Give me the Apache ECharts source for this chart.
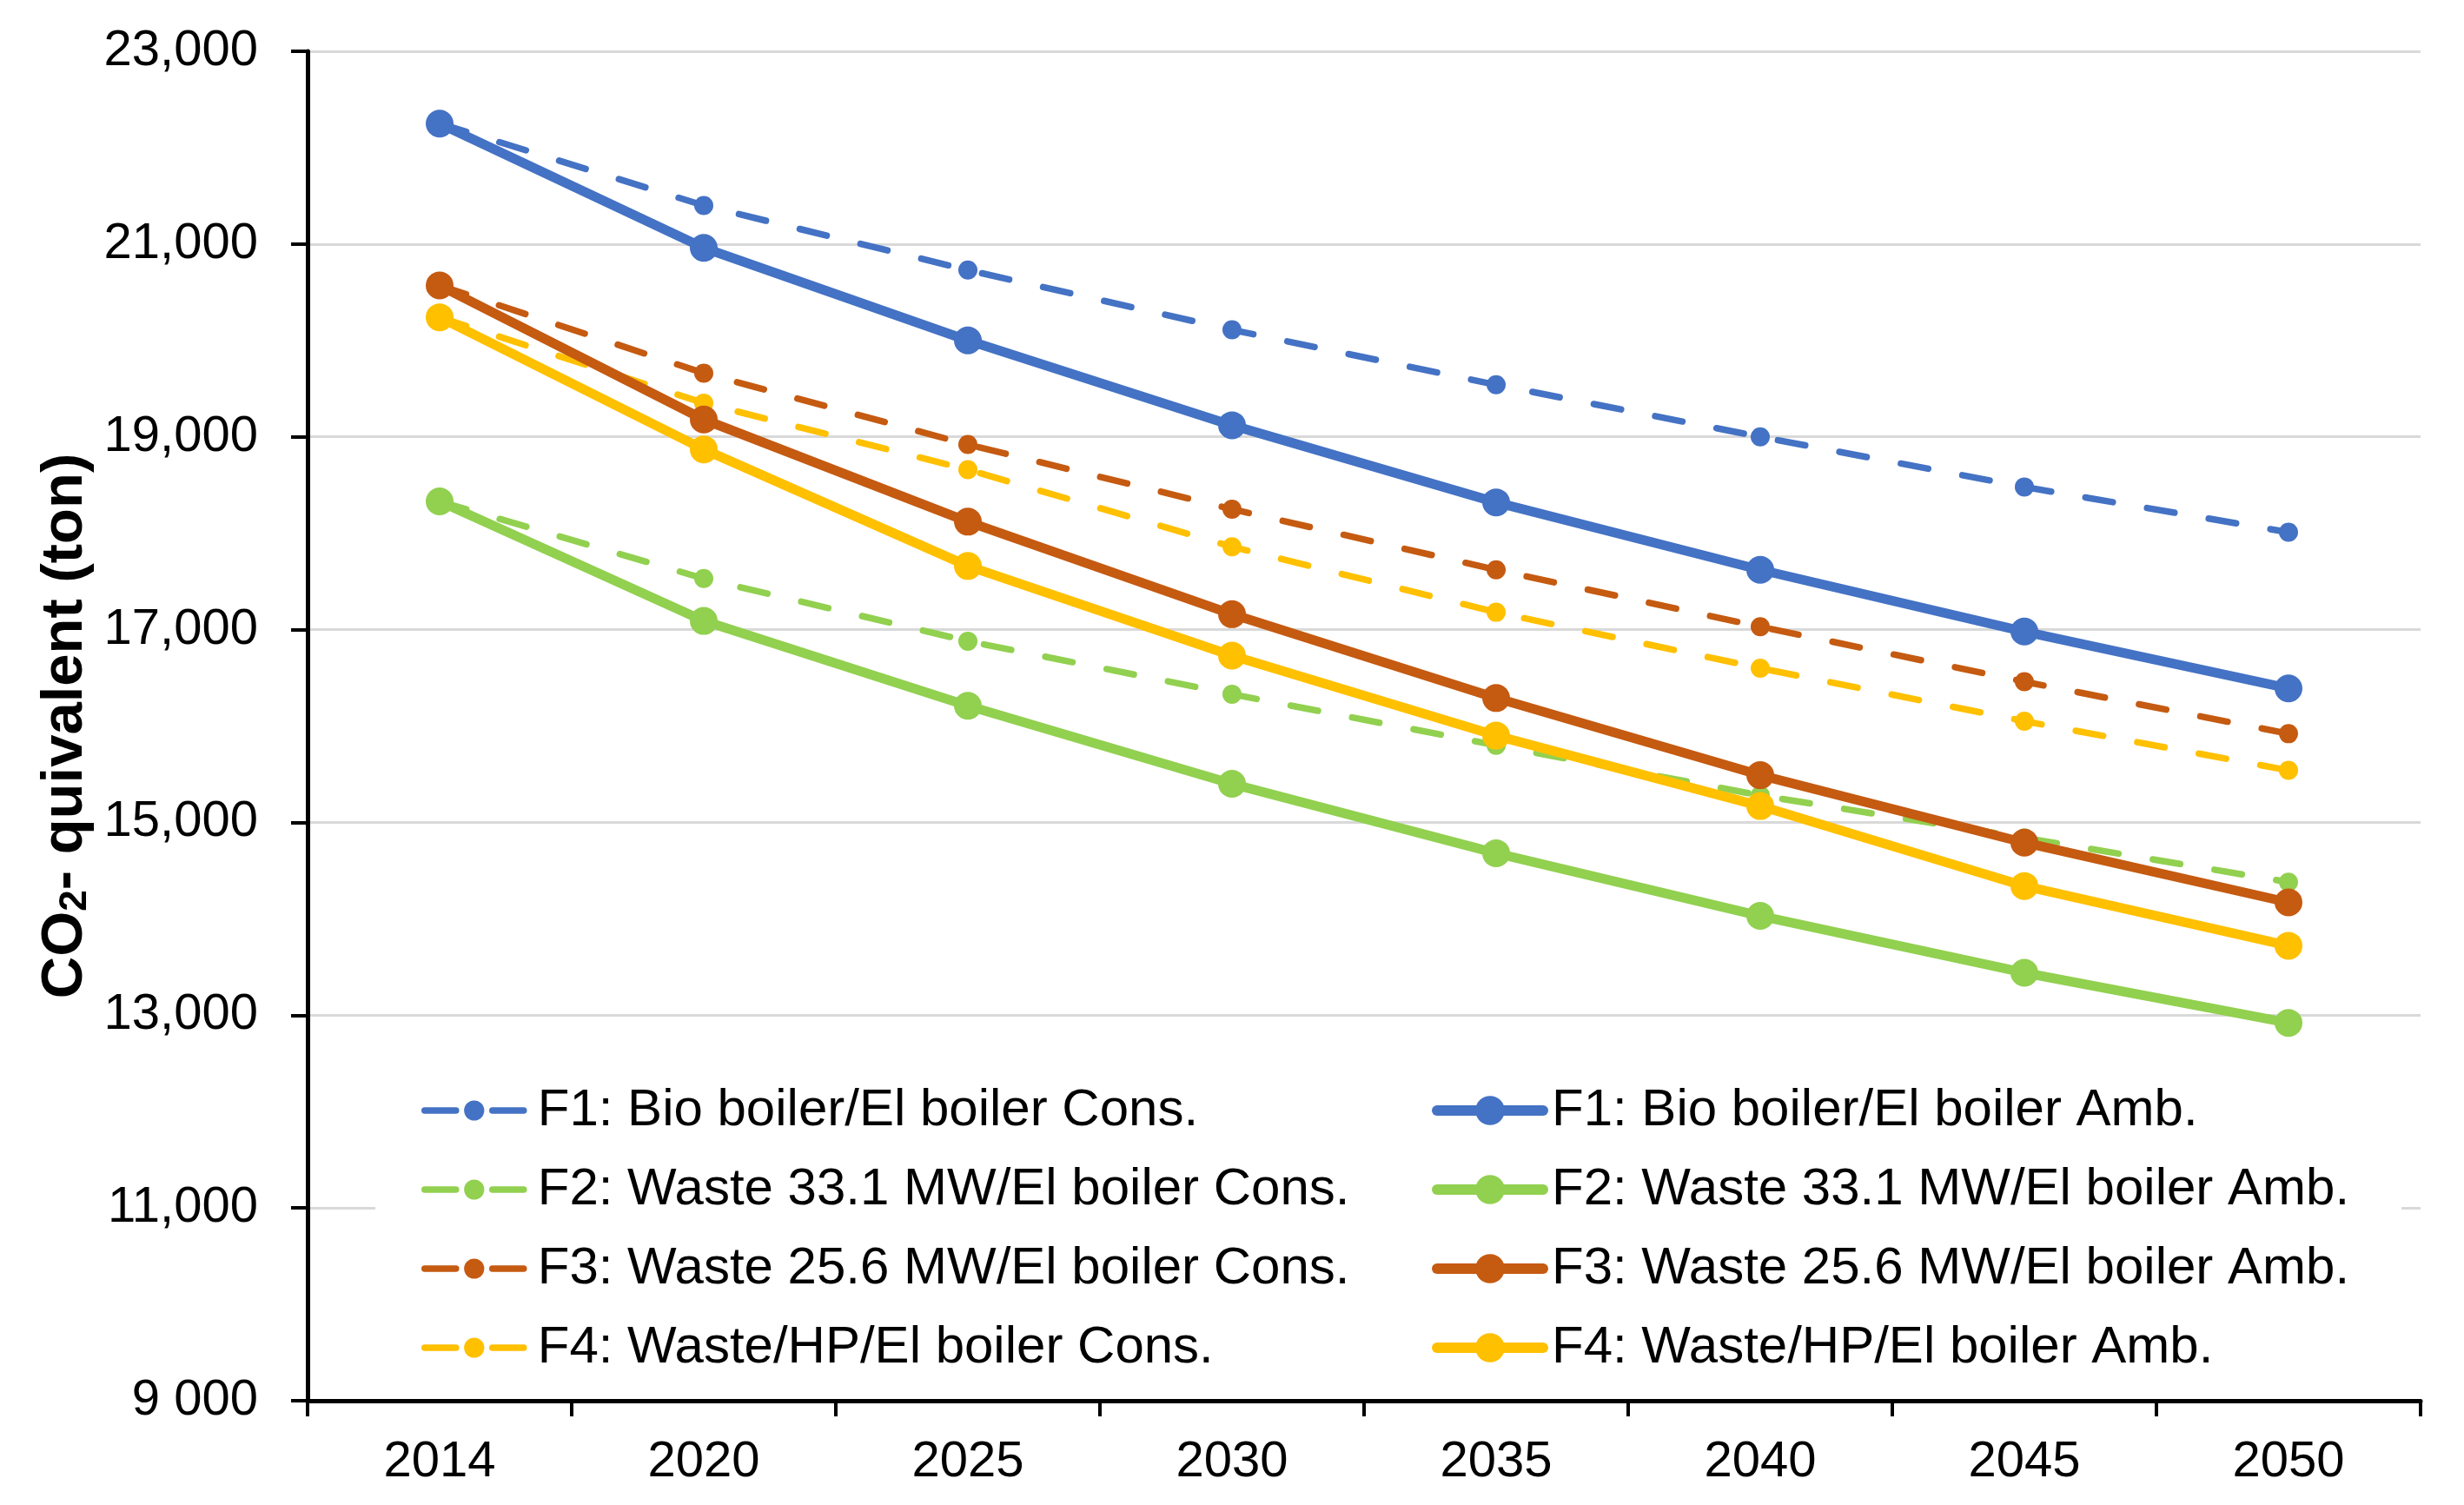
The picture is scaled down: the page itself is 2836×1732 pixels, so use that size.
<!DOCTYPE html>
<html>
<head>
<meta charset="utf-8">
<script src="https://cdn.jsdelivr.net/npm/echarts@6/dist/echarts.min.js"></script>
<style>
html,body{margin:0;padding:0;background:#fff;}
#chart{width:2836px;height:1732px;}
</style>
</head>
<body>
<div id="chart"></div>
<script>
// ---- data ----
const years = ['2014','2020','2025','2030','2035','2040','2045','2050'];
const yTicks = [9000, 11000, 13000, 15000, 17000, 19000, 21000, 23000];
const yTickLabels = ['9 000', '11,000', '13,000', '15,000', '17,000', '19,000', '21,000', '23,000'];

const f1Cons = [22250, 21400, 20730, 20110, 19540, 19000, 18480, 18010];
const f1Amb  = [22250, 20960, 20000, 19120, 18320, 17620, 16980, 16390];
const f2Cons = [18330, 17530, 16880, 16330, 15800, 15280, 14840, 14380];
const f2Amb  = [18330, 17090, 16210, 15400, 14680, 14030, 13440, 12920];
const f3Cons = [20570, 19660, 18920, 18250, 17620, 17030, 16460, 15920];
const f3Amb  = [20570, 19180, 18120, 17160, 16290, 15490, 14790, 14170];
const f4Cons = [20240, 19350, 18660, 17860, 17180, 16600, 16050, 15540];
const f4Amb  = [20240, 18870, 17660, 16730, 15900, 15170, 14340, 13720];

const consNames = [
  'F1: Bio boiler/El boiler Cons.',
  'F2: Waste 33.1 MW/El boiler Cons.',
  'F3: Waste 25.6 MW/El boiler Cons.',
  'F4: Waste/HP/El boiler Cons.'
];
const ambNames = [
  'F1: Bio boiler/El boiler Amb.',
  'F2: Waste 33.1 MW/El boiler Amb.',
  'F3: Waste 25.6 MW/El boiler Amb.',
  'F4: Waste/HP/El boiler Amb.'
];
const colors = ['#4472C4', '#92D050', '#C55A11', '#FFC000'];

const consData = [f1Cons, f2Cons, f3Cons, f4Cons];
const ambData = [f1Amb, f2Amb, f3Amb, f4Amb];

// ---- chart ----
const chart = echarts.init(document.getElementById('chart'), null, {renderer: 'canvas'});

const series = [];
consData.forEach((d, i) => {
  series.push({
    name: consNames[i], type: 'line', data: d,
    symbol: 'circle', symbolSize: 22, z: 2,
    itemStyle: {color: colors[i]},
    lineStyle: {color: colors[i], width: 7.5, type: [32, 40], cap: 'round'},
    emphasis: {disabled: true}, animation: false
  });
});
ambData.forEach((d, i) => {
  series.push({
    name: ambNames[i], type: 'line', data: d,
    symbol: 'circle', symbolSize: 32, z: 3,
    itemStyle: {color: colors[i]},
    lineStyle: {color: colors[i], width: 11, cap: 'round', join: 'round'},
    emphasis: {disabled: true}, animation: false
  });
});

const labelFont = 'Liberation Sans, Arial, sans-serif';

const option = {
  backgroundColor: '#fff',
  animation: false,
  grid: {left: 354, right: 50, top: 59, bottom: 120, containLabel: false},
  xAxis: {
    type: 'category', data: years, boundaryGap: true,
    axisLine: {lineStyle: {color: '#000', width: 5}},
    axisTick: {show: true, length: 18, lineStyle: {color: '#000', width: 4}, interval: 0},
    axisLabel: {color: '#000', fontSize: 58, fontFamily: labelFont, margin: 42, interval: 0},
    splitLine: {show: false}
  },
  yAxis: {
    type: 'value', min: 9000, max: 23000, interval: 2000,
    axisLine: {show: true, lineStyle: {color: '#000', width: 5}},
    axisTick: {show: true, length: 19, lineStyle: {color: '#000', width: 4}},
    axisLabel: {
      color: '#000', fontSize: 58, fontFamily: labelFont, margin: 57,
      formatter: v => { const k = yTicks.indexOf(v); return k >= 0 ? yTickLabels[k] : ''; }
    },
    splitLine: {show: true, lineStyle: {color: '#d9d9d9', width: 3}},
    name: '{a|CO}{s|2}{a|- quivalent (ton)}',
    nameLocation: 'middle', nameRotate: 90, nameGap: 244,
    nameTextStyle: {
      rich: {
        a: {fontSize: 67, fontWeight: 'bold', fontFamily: labelFont, color: '#000', lineHeight: 67, verticalAlign: 'middle'},
        s: {fontSize: 44, fontWeight: 'bold', fontFamily: labelFont, color: '#000', lineHeight: 44, verticalAlign: 'bottom', padding: [36, 0, 0, 0]}
      }
    }
  },
  legend: [
    {
      data: consNames, orient: 'vertical', left: 485, top: 1248, padding: 0,
      itemWidth: 114, itemHeight: 29, itemGap: 31,
      lineStyle: {width: 7.5, type: [36, 42], cap: 'round'},
      textStyle: {color: '#000', fontSize: 60, fontFamily: labelFont, lineHeight: 60, padding: [0, 0, 0, 11]},
      selectedMode: false
    },
    {
      data: ambNames, orient: 'vertical', left: 1648, top: 1248, padding: 0,
      itemWidth: 122, itemHeight: 42, itemGap: 31,
      lineStyle: {width: 12, type: 'solid', cap: 'round'},
      textStyle: {color: '#000', fontSize: 60, fontFamily: labelFont, lineHeight: 60, padding: [0, 0, 0, 5]},
      selectedMode: false
    }
  ],
  graphic: [{
    type: 'rect', z: 1, silent: true,
    shape: {x: 432, y: 1195, width: 2332, height: 405},
    style: {fill: '#fff'}
  }],
  series: series
};
chart.setOption(option);
</script>
</body>
</html>
